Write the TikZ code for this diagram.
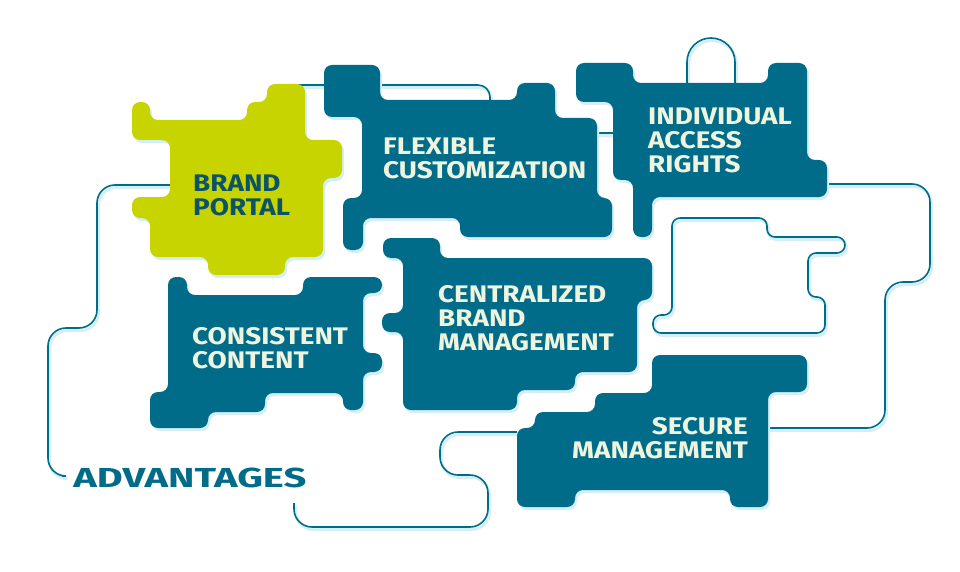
\documentclass[tikz,border=0pt]{standalone}
\usepackage{fontspec}
\setmainfont{Fira Sans}
\usetikzlibrary{shadows}

\definecolor{petrol}{HTML}{006C8A}
\definecolor{lime}{HTML}{C8D400}
\definecolor{cream}{HTML}{EEF4DE}
\definecolor{darkpetrol}{HTML}{0B5468}
\definecolor{glow}{HTML}{D3EFF4}

\tikzset{
  piece/.style={fill=petrol, rounded corners=8pt,
    drop shadow={shadow xshift=2pt, shadow yshift=-3pt, fill=glow, opacity=1}},
  piecetext/.style={text=cream, font=\bfseries\fontsize{24}{24}\selectfont,
    align=left, inner sep=0pt, xscale=1.16},
  conn/.style={draw=petrol, line width=1.6pt, rounded corners=18pt,
    preaction={draw=glow, line width=3pt,
      transform canvas={shift={(1.5pt,-2.5pt)}}}},
}

\begin{document}
\begin{tikzpicture}[x=1pt, y=-1pt]
  \useasboundingbox (0,0) rectangle (960,572);

  % end points of the lines
  \coordinate (bp-w) at (170,185);
  \coordinate (bp-ne) at (285,85);
  \coordinate (adv-w) at (62,476);
  \coordinate (adv-s) at (294,503);
  \coordinate (fc-n) at (490,100);
  \coordinate (fc-e) at (597,133);
  \coordinate (ia-w) at (613,133);
  \coordinate (ia-n1) at (687,83);
  \coordinate (ia-n2) at (735,83);
  \coordinate (ia-e) at (827,184);
  \coordinate (sm-w) at (517,432);
  \coordinate (sm-e) at (768,428);

  % lines first, the pieces cover them
  \draw[conn] (bp-w) -- (97,185) -- (97,328) -- (48,328) -- (48,476) -- (adv-w);
  \draw[conn, rounded corners=12pt] (bp-ne) -- (490,85) -- (fc-n);
  \draw[conn] (fc-e) -- (ia-w);
  \draw[conn, rounded corners=24pt] (ia-n1) -- (687,38) -- (735,38) -- (ia-n2);
  \draw[conn] (ia-e) -- (930,184) -- (930,282) -- (885,282) -- (885,428) -- (sm-e);
  \draw[conn] (adv-s) -- (294,527) -- (488,527) -- (488,475) -- (440,475) -- (440,432) -- (sm-w);

  % empty piece
  \draw[conn, rounded corners=8pt] (672,218) -- (767,218) -- (767,237) -- (845,237)
    -- (845,253) -- (808,253) -- (808,297) -- (825,297) -- (825,333) -- (653,333)
    -- (653,315) -- (672,315) -- cycle;

  % brand portal
  \fill[piece, fill=lime] (132,102) -- (150,102) -- (150,120) -- (247,120) -- (247,102)
    -- (267,102) -- (267,84) -- (305,84) -- (305,140) -- (342,140) -- (342,178)
    -- (323,178) -- (323,257) -- (285,257) -- (285,275) -- (208,275) -- (208,257)
    -- (150,257) -- (150,218) -- (132,218) -- (132,197) -- (170,197) -- (170,140)
    -- (132,140) -- cycle;

  % flexible customization
  \fill[piece] (324,65) -- (380,65) -- (380,100) -- (517,100) -- (517,83) -- (555,83)
    -- (555,118) -- (597,118) -- (597,198) -- (612,198) -- (612,237) -- (460,237)
    -- (460,218) -- (363,218) -- (363,250) -- (343,250) -- (343,198) -- (362,198)
    -- (362,117) -- (324,117) -- cycle;

  % individual access rights
  \fill[piece] (576,63) -- (633,63) -- (633,83) -- (768,83) -- (768,63) -- (807,63)
    -- (807,160) -- (827,160) -- (827,197) -- (652,197) -- (652,237) -- (633,237)
    -- (633,180) -- (613,180) -- (613,102) -- (576,102) -- cycle;

  % consistent content
  \fill[piece] (168,277) -- (187,277) -- (187,295) -- (303,295) -- (303,277) -- (382,277)
    -- (382,293) -- (363,293) -- (363,353) -- (382,353) -- (382,372) -- (363,372)
    -- (363,410) -- (343,410) -- (343,393) -- (265,393) -- (265,412) -- (208,412)
    -- (208,428) -- (150,428) -- (150,392) -- (168,392) -- cycle;

  % centralized brand management
  \fill[piece] (383,238) -- (440,238) -- (440,258) -- (652,258) -- (652,300) -- (637,300)
    -- (637,372) -- (575,372) -- (575,390) -- (517,390) -- (517,410) -- (403,410)
    -- (403,332) -- (382,332) -- (382,313) -- (403,313) -- (403,258) -- (383,258) -- cycle;

  % secure management
  \fill[piece] (652,355) -- (807,355) -- (807,392) -- (768,392) -- (768,507) -- (730,507)
    -- (730,490) -- (575,490) -- (575,507) -- (517,507) -- (517,428) -- (535,428)
    -- (535,412) -- (595,412) -- (595,393) -- (652,393) -- cycle;

  % texts
  \node[piecetext, text=darkpetrol, anchor=west] (bp) at (193,195) {BRAND\\PORTAL};
  \node[piecetext, anchor=west] (fc) at (383,158) {FLEXIBLE\\CUSTOMIZATION};
  \node[piecetext, anchor=west] (ia) at (648,140) {INDIVIDUAL\\ACCESS\\RIGHTS};
  \node[piecetext, anchor=west] (cc) at (192,348) {CONSISTENT\\CONTENT};
  \node[piecetext, anchor=west] (cb) at (438,318) {CENTRALIZED\\BRAND\\MANAGEMENT};
  \node[piecetext, align=right, anchor=east] (sm) at (748,438) {SECURE\\MANAGEMENT};
  \node[anchor=west, inner sep=0pt, text=petrol, xscale=1.45,
    font=\bfseries\fontsize{27.5}{27.5}\selectfont] (adv) at (73,478) {ADVANTAGES};
\end{tikzpicture}
\end{document}
